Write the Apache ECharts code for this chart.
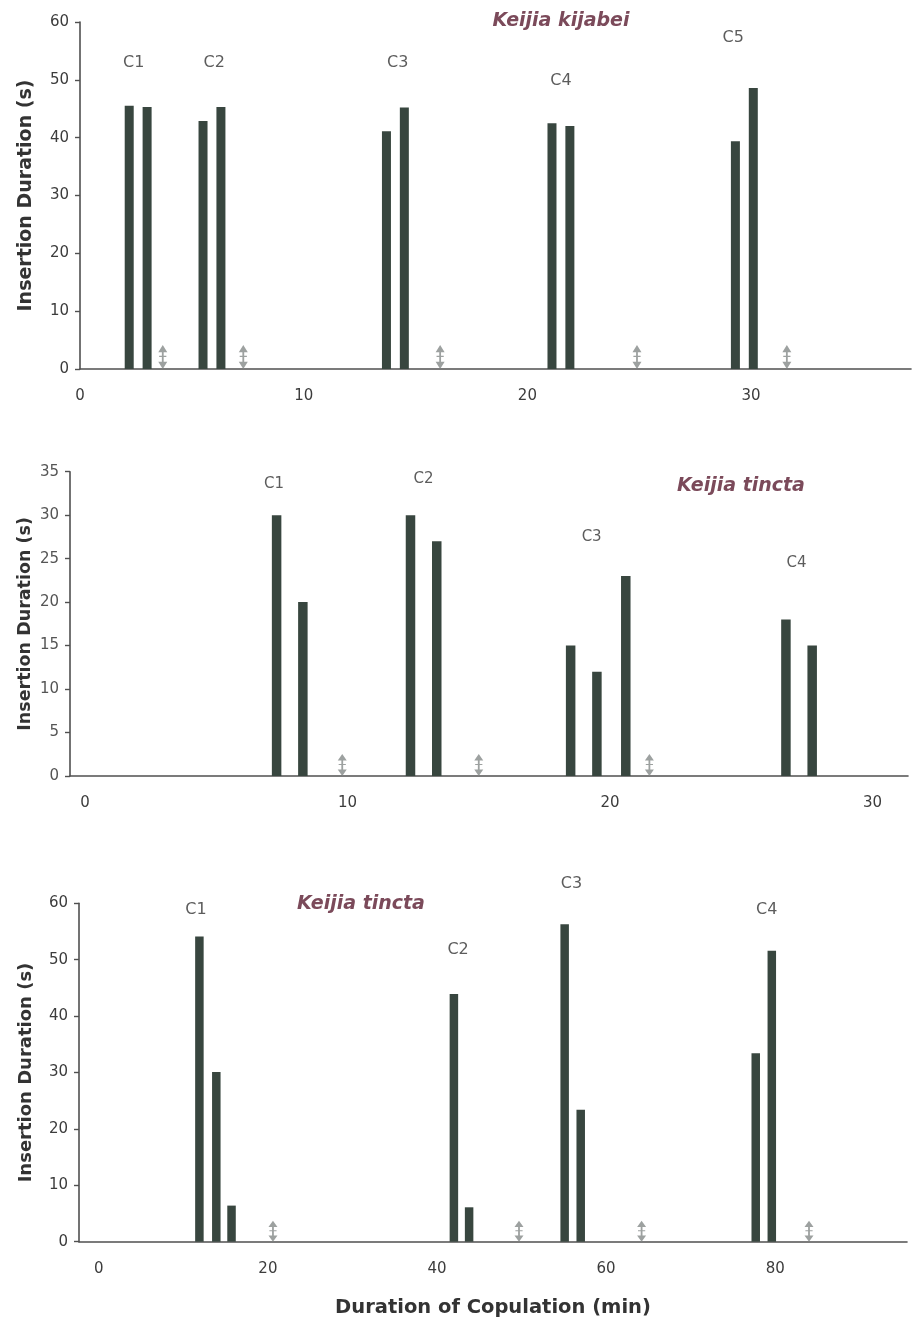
<!DOCTYPE html>
<html>
<head>
<meta charset="utf-8">
<script src="https://cdn.jsdelivr.net/npm/echarts@6/dist/echarts.min.js"></script>
<style>
html,body{margin:0;padding:0;background:#fff;}
#chart{width:917px;height:1322px;}
</style>
</head>
<body>
<div id="chart"></div>
<script>
// ---------- Panel 1: Keijia kijabei ----------
const kkTitle = 'Keijia kijabei';
const kkTimes = [2.2, 3.0, 5.5, 6.3, 13.7, 14.5, 21.1, 21.9, 29.3, 30.1];
const kkDurations = [45.5, 45.3, 42.9, 45.3, 41.1, 45.2, 42.5, 42.0, 39.4, 48.6];
const kkArrowTimes = [3.7, 7.3, 16.1, 24.9, 31.6];
const kkLabels = ['C1', 'C2', 'C3', 'C4', 'C5'];
const kkLabelTimes = [2.4, 6.0, 14.2, 21.5, 29.2];
const kkLabelLevels = [53.0, 53.0, 53.0, 49.9, 57.2];
const kkXTicks = [0, 10, 20, 30];

// ---------- Panel 2: Keijia tincta ----------
const ktATitle = 'Keijia tincta';
const ktATimes = [7.3, 8.3, 12.4, 13.4, 18.5, 19.5, 20.6, 26.7, 27.7];
const ktADurations = [30, 20, 30, 27, 15, 12, 23, 18, 15];
const ktAArrowTimes = [9.8, 15.0, 21.5];
const ktALabels = ['C1', 'C2', 'C3', 'C4'];
const ktALabelTimes = [7.2, 12.9, 19.3, 27.1];
const ktALabelLevels = [33.6, 34.2, 27.5, 24.5];
const ktAXTicks = [0, 10, 20, 30];

// ---------- Panel 3: Keijia tincta ----------
const ktBTitle = 'Keijia tincta';
const ktBTimes = [11.9, 13.9, 15.7, 42.0, 43.8, 55.1, 57.0, 77.7, 79.6];
const ktBDurations = [54.1, 30.1, 6.4, 43.9, 6.1, 56.3, 23.4, 33.4, 51.6];
const ktBArrowTimes = [20.6, 49.7, 64.2, 84.0];
const ktBLabels = ['C1', 'C2', 'C3', 'C4'];
const ktBLabelTimes = [11.5, 42.5, 55.9, 79.0];
const ktBLabelLevels = [58.8, 51.7, 63.4, 58.8];
const ktBXTicks = [0, 20, 40, 60, 80];

const yName = 'Insertion Duration (s)';
const xName = 'Duration of Copulation (min)';

const FONT = 'DejaVu Sans';
const BAR = '#38463f';
const AXIS = '#505050';
const ARROW_PATH = 'path://M5,0 L10,6 L6,6 L6,9 L9,9 L9,10 L6,10 L6,14 L10,14 L5,20 L0,14 L4,14 L4,10 L1,10 L1,9 L4,9 L4,6 L0,6 Z';

const zip = (a, b) => a.map((v, i) => [v, b[i]]);

function panel(idx, o) {
  return [
    {
      type: 'bar', xAxisIndex: idx, yAxisIndex: idx,
      data: zip(o.times, o.values), barWidth: o.barWidth,
      itemStyle: { color: BAR }, silent: true
    },
    {
      type: 'scatter', xAxisIndex: idx, yAxisIndex: idx,
      data: o.arrows.map(t => [t, 0]),
      symbol: ARROW_PATH, symbolSize: [9, o.arrowH], symbolOffset: [0, '-50%'],
      itemStyle: { color: '#858a88' }, silent: true, z: 3
    },
    {
      type: 'scatter', xAxisIndex: idx, yAxisIndex: idx, clip: false,
      data: o.labels.map((n, i) => ({ name: n, value: [o.labelTimes[i], o.labelLevels[i]] })),
      symbolSize: 0, silent: true,
      label: { show: true, position: 'inside', formatter: '{b}', fontFamily: FONT,
               fontSize: o.labelSize, color: '#333' }
    }
  ];
}

const chart = echarts.init(document.getElementById('chart'), null, { renderer: 'canvas' });

function xAxis(idx, min, max, ticks, extra) {
  return Object.assign({
    type: 'value', gridIndex: idx, min: min, max: max,
    splitLine: { show: false },
    axisLine: { onZero: false, lineStyle: { color: AXIS, width: 1.6 } },
    axisTick: { show: false },
    axisLabel: { customValues: ticks, margin: 20, fontFamily: FONT, fontSize: 15, color: '#3c3c3c' }
  }, extra || {});
}
function yAxis(idx, max, interval, gap, nameSize, labelColor) {
  return {
    type: 'value', gridIndex: idx, min: 0, max: max, interval: interval,
    splitLine: { show: false },
    axisLine: { show: true, onZero: false, lineStyle: { color: AXIS, width: 1.6 } },
    axisTick: { show: true, length: 5, lineStyle: { color: AXIS, width: 1.4 } },
    axisLabel: { margin: 11, fontFamily: FONT, fontSize: 15, color: labelColor },
    name: yName, nameLocation: 'middle', nameGap: gap, nameRotate: 90, nameMoveOverlap: false,
    nameTextStyle: { fontFamily: FONT, fontWeight: 'bold', fontSize: nameSize, color: '#333' }
  };
}

const titleStyle = { fontFamily: FONT, fontWeight: 'bold', fontStyle: 'italic', fontSize: 19, color: '#7b4a5a' };

chart.setOption({
  animation: false,
  backgroundColor: '#fff',
  title: [
    { text: kkTitle, left: 556, top: 7, textAlign: 'center', textStyle: titleStyle },
    { text: ktATitle, left: 736, top: 472, textAlign: 'center', textStyle: titleStyle },
    { text: ktBTitle, left: 356, top: 890, textAlign: 'center', textStyle: titleStyle }
  ],
  grid: [
    { left: 80, right: 6, top: 22, height: 347 },
    { left: 70, right: 9, top: 471.7, height: 304.3 },
    { left: 79, right: 10, top: 903.3, height: 338.4 }
  ],
  xAxis: [
    xAxis(0, 0, 37.15, kkXTicks),
    xAxis(1, -0.57, 31.35, ktAXTicks),
    xAxis(2, -2.34, 95.59, ktBXTicks, {
      name: xName, nameLocation: 'middle', nameGap: 56,
      nameTextStyle: { fontFamily: FONT, fontWeight: 'bold', fontSize: 19.5, color: '#333' }
    })
  ],
  yAxis: [
    yAxis(0, 60, 10, 44, 19, '#3c3c3c'),
    yAxis(1, 35, 5, 36, 17.5, '#555'),
    yAxis(2, 60, 10, 44, 18, '#3c3c3c')
  ],
  series: [].concat(
    panel(0, { times: kkTimes, values: kkDurations, arrows: kkArrowTimes, labels: kkLabels,
               labelTimes: kkLabelTimes, labelLevels: kkLabelLevels, barWidth: 9, arrowH: 24, labelSize: 16 }),
    panel(1, { times: ktATimes, values: ktADurations, arrows: ktAArrowTimes, labels: ktALabels,
               labelTimes: ktALabelTimes, labelLevels: ktALabelLevels, barWidth: 9.5, arrowH: 22, labelSize: 15 }),
    panel(2, { times: ktBTimes, values: ktBDurations, arrows: ktBArrowTimes, labels: ktBLabels,
               labelTimes: ktBLabelTimes, labelLevels: ktBLabelLevels, barWidth: 8.5, arrowH: 21, labelSize: 16 })
  )
});
</script>
</body>
</html>
